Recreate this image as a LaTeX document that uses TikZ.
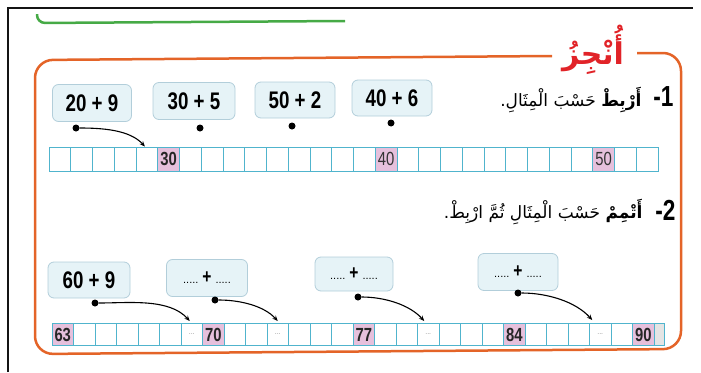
\documentclass[tikz,border=0pt]{standalone}
\usepackage{fontspec}
\setmainfont{Liberation Sans}
\newfontfamily\numfont[FakeStretch=0.78]{Liberation Sans}
\newfontfamily\arabicfont[Script=Arabic]{DejaVu Sans}
\TeXXeTstate=1
\usetikzlibrary{arrows.meta}
\definecolor{framec}{RGB}{20,20,20}
\definecolor{greenl}{RGB}{70,170,70}
\definecolor{orangel}{RGB}{228,100,40}
\definecolor{titlered}{RGB}{225,35,40}
\definecolor{boxfill}{RGB}{230,243,247}
\definecolor{boxline}{RGB}{178,206,218}
\definecolor{cellline}{RGB}{80,180,205}
\definecolor{pinkc}{RGB}{230,192,220}
\definecolor{greycell}{RGB}{228,228,228}
\definecolor{dotgrey}{RGB}{140,140,140}
\begin{document}
\begin{tikzpicture}[x=1pt,y=-1pt,
  sumbox/.style={draw=boxline,line width=0.8pt,fill=boxfill,rounded corners=6pt,inner sep=0pt,
     font=\numfont\bfseries\fontsize{24}{24}\selectfont},
  pdot/.style={circle,fill=black,inner sep=0pt,minimum size=7pt},
  cellA/.style={draw=cellline,line width=0.9pt,inner sep=0pt,minimum width=21.75pt,minimum height=24pt},
  cellB/.style={draw=cellline,line width=0.9pt,inner sep=0pt,minimum width=21.5pt,minimum height=22pt},
  numcell/.style={fill=pinkc,font=\numfont\bfseries\fontsize{19}{19}\selectfont,text=black!85},
  numcellr/.style={fill=pinkc,font=\numfont\fontsize{19}{19}\selectfont,text=black!80},
  gapcell/.style={font=\fontsize{7}{7}\selectfont,text=dotgrey},
  link/.style={line width=1.1pt,-{Stealth[length=5.5pt,width=4.5pt]}},
  linkcurve/.style={out=0,in=132,looseness=0.85},
  numlabel/.style={anchor=east,font=\numfont\bfseries\fontsize{29}{29}\selectfont},
  artext/.style={anchor=east,font=\arabicfont\fontsize{17}{17}\selectfont},
]
\useasboundingbox (0,0) rectangle (701,372);
% frame and decorative lines
\draw[framec,line width=2pt] (8,372) -- (8,8) -- (693,8);
\draw[greenl,line width=2.5pt,rounded corners=8pt] (37,14) -- (37,23) -- (345,21);
\node[font=\arabicfont\bfseries\fontsize{30}{30}\selectfont,text=titlered] (title) at (593,50) {\beginR أُنْجِزُ\endR};
\draw[orangel,line width=2.5pt,rounded corners=18pt] (552,56) -- (35,60) -- (35,354) -- (681,349) -- (681,53) -- (637,53);

% instruction 1
\node[numlabel] (n1) at (677,97) {-1};
\node[artext] (t1) at (645,100) {\beginR{\bfseries أَرْبِطْ} حَسْبَ الْمِثَالِ.\endR};

% row 1 boxes
\node[sumbox,minimum width=79pt,minimum height=37pt] (b1) at (92,103) {20 + 9};
\node[sumbox,minimum width=82pt,minimum height=37pt] (b2) at (194,101) {30 + 5};
\node[sumbox,minimum width=80pt,minimum height=36pt] (b3) at (295,100) {50 + 2};
\node[sumbox,minimum width=80pt,minimum height=36pt] (b4) at (392,98) {40 + 6};
\node[pdot] (p1) at (76,128) {};
\node[pdot] (p2) at (200,128) {};
\node[pdot] (p3) at (292,126) {};
\node[pdot] (p4) at (391,123) {};

% strip 1
\foreach \i in {0,...,27}{
  \node[cellA] (a\i) at ({59.9+21.75*\i},159) {};
}
\node[cellA,numcell] (a30) at (a5) {30};
\node[cellA,numcellr] (a40) at (a15) {40};
\node[cellA,numcellr] (a50) at (a25) {50};
\draw[link] (p1) to[linkcurve] ([xshift=-2pt]a4.north);

% instruction 2
\node[numlabel] (n2) at (679,210) {-2};
\node[artext] (t2) at (646,212) {\beginR{\bfseries أَتْمِمْ} حَسْبَ الْمِثَالِ ثُمَّ ارْبِطْ.\endR};

% row 2 boxes
\node[sumbox,minimum width=82pt,minimum height=36pt] (e1) at (89,280) {60 + 9};
\node[sumbox,minimum width=81pt,minimum height=37pt] (e2) at (207,278) {{\mdseries\rmfamily\fontsize{11}{11}\selectfont .....}\,{\fontsize{20}{20}\selectfont +}\,{\mdseries\rmfamily\fontsize{11}{11}\selectfont .....}};
\node[sumbox,minimum width=78pt,minimum height=34pt] (e3) at (354,274) {{\mdseries\rmfamily\fontsize{11}{11}\selectfont .....}\,{\fontsize{20}{20}\selectfont +}\,{\mdseries\rmfamily\fontsize{11}{11}\selectfont .....}};
\node[sumbox,minimum width=80pt,minimum height=37pt] (e4) at (518,272) {{\mdseries\rmfamily\fontsize{11}{11}\selectfont .....}\,{\fontsize{20}{20}\selectfont +}\,{\mdseries\rmfamily\fontsize{11}{11}\selectfont .....}};
\node[pdot] (p5) at (95,303) {};
\node[pdot] (p6) at (215,300) {};
\node[pdot] (p7) at (358,297) {};
\node[pdot] (p8) at (518,293) {};

% strip 2
\foreach \i in {0,...,27}{
  \node[cellB] (c\i) at ({62.75+21.5*\i},334.5) {};
}
\node[cellB,minimum width=10pt,fill=greycell] (cend) at (659,334.5) {};
\node[cellB,numcell] (c63) at (c0) {63};
\node[cellB,numcell] (c70) at (c7) {70};
\node[cellB,numcell] (c77) at (c14) {77};
\node[cellB,numcell] (c84) at (c21) {84};
\node[cellB,numcell] (c90) at (c27) {90};
\node[cellB,gapcell] (g1) at (c6) {...};
\node[cellB,gapcell] (g2) at (c10) {...};
\node[cellB,gapcell] (g3) at (c17) {...};
\node[cellB,gapcell] (g4) at (c25) {...};
\draw[link] (p5) to[linkcurve] ([xshift=-2pt,yshift=2pt]g1.north);
\draw[link] (p6) to[linkcurve] ([yshift=2pt]g2.north);
\draw[link] (p7) to[linkcurve] ([xshift=-4pt,yshift=2pt]g3.north);
\draw[link] (p8) to[linkcurve] ([xshift=-8pt,yshift=3pt]g4.north);
\end{tikzpicture}
\end{document}
